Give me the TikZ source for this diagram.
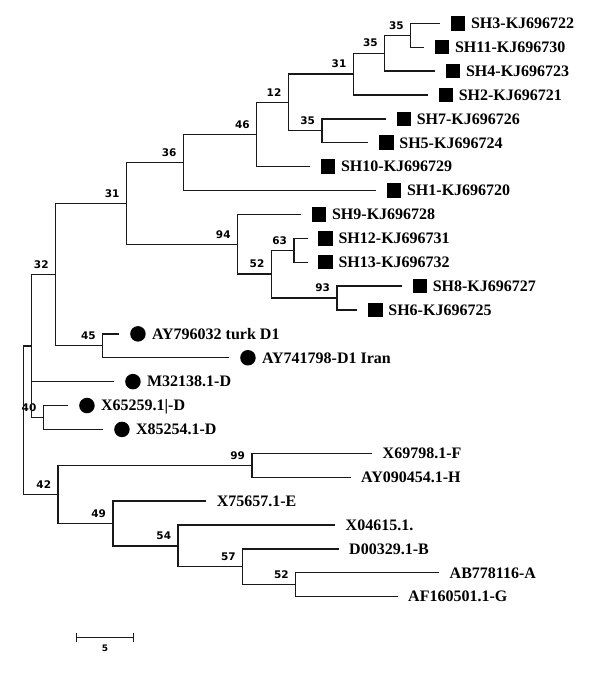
\documentclass[tikz,border=0pt]{standalone}
\usepackage{fontspec}
\setmainfont{Liberation Serif}[BoldFont={Liberation Serif Bold}]
\newfontfamily\bsfont{DejaVu Sans}[BoldFont={DejaVu Sans Bold}]
\usetikzlibrary{positioning,arrows.meta}
\newcommand{\tx}{\bfseries\fontsize{16}{16}\selectfont}

\begin{document}
\begin{tikzpicture}[x=1pt,y=-23.89pt,
   branch/.style={draw=black!90,line width=1.3pt},
   sq/.style={rectangle,fill=black,minimum size=14.5pt,inner sep=0pt},
   dot/.style={circle,fill=black,minimum size=15.5pt,inner sep=0pt},
   taxon/.style={font=\tx,inner sep=0pt,text height=10.6pt,text depth=0pt},
   bs/.style={font=\bsfont\bfseries\fontsize{10.5}{10.5}\selectfont,inner sep=0pt,xshift=-14.3pt,yshift=10pt}]
   \useasboundingbox (0,-0.975) rectangle (600,27.196);
   % leaf ends
   \coordinate (sh3)    at (440.0, 0);
   \coordinate (sh11)   at (424.0, 1);
   \coordinate (sh4)    at (435.0, 2);
   \coordinate (sh2)    at (427.7, 3);
   \coordinate (sh7)    at (385.7, 4);
   \coordinate (sh5)    at (368.3, 5);
   \coordinate (sh10)   at (310.0, 6);
   \coordinate (sh1)    at (376.0, 7);
   \coordinate (sh9)    at (301.0, 8);
   \coordinate (sh12)   at (307.5, 9);
   \coordinate (sh13)   at (307.5,10);
   \coordinate (sh8)    at (401.7,11);
   \coordinate (sh6)    at (357.3,12);
   \coordinate (ay796)  at (119.3,13);
   \coordinate (ay741)  at (229.3,14);
   \coordinate (m32138) at (114.3,15);
   \coordinate (x65259) at ( 68.3,16);
   \coordinate (x85254) at (103.3,17);
   \coordinate (x69798) at (372.0,18);
   \coordinate (ay090)  at (350.5,19);
   \coordinate (x75657) at (206.1,20);
   \coordinate (x04615) at (335.0,21);
   \coordinate (d00329) at (338.5,22);
   \coordinate (ab778)  at (439.0,23);
   \coordinate (af160)  at (397.5,24);
   % inner nodes
   \coordinate[label={[bs]center:35}] (n35a) at (410.7, 0.5);
   \coordinate[label={[bs]center:35}] (n35b) at (384.7, 1.25);
   \coordinate[label={[bs]center:31}] (n31a) at (353.3, 2.125);
   \coordinate[label={[bs]center:35}] (n35c) at (322.0, 4.5);
   \coordinate[label={[bs]center:12}] (n12)  at (288.3, 3.3125);
   \coordinate[label={[bs]center:46}] (n46)  at (256.7, 4.656);
   \coordinate[label={[bs]center:36}] (n36)  at (183.5, 5.828);
   \coordinate[label={[bs]center:63}] (n63)  at (293.9, 9.5);
   \coordinate[label={[bs]center:93}] (n93)  at (336.9,11.5);
   \coordinate[label={[bs]center:52}] (n52a) at (271.3,10.5);
   \coordinate[label={[bs]center:94}] (n94)  at (237.6, 9.25);
   \coordinate[label={[bs]center:31}] (n31b) at (126.5, 7.539);
   \coordinate[label={[bs]center:45}] (n45)  at (102.7,13.5);
   \coordinate[label={[bs]center:32}] (n32)  at ( 55.6,10.52);
   \coordinate[label={[bs]center:40}] (n40)  at ( 43.3,16.5);
   \coordinate (nd)   at ( 31.7,13.51);
   \coordinate[label={[bs]center:99}] (n99)  at (252.0,18.5);
   \coordinate[label={[bs]center:52}] (n52b) at (295.7,23.5);
   \coordinate[label={[bs]center:57}] (n57)  at (242.7,22.75);
   \coordinate[label={[bs]center:54}] (n54)  at (178.1,21.875);
   \coordinate[label={[bs]center:49}] (n49)  at (112.9,20.94);
   \coordinate[label={[bs]center:42}] (n42)  at ( 58.1,19.72);
   \coordinate (root) at ( 23.7,16.6);
   % markers and names
   \node (sh3m)  [sq,right=10.7pt of sh3]  {};
   \node (sh3t)  [taxon,right=5.3pt of sh3m]  {SH3-KJ696722};
   \node (sh11m) [sq,right=10.7pt of sh11] {};
   \node (sh11t) [taxon,right=5.3pt of sh11m] {SH11-KJ696730};
   \node (sh4m)  [sq,right=10.7pt of sh4]  {};
   \node (sh4t)  [taxon,right=5.3pt of sh4m]  {SH4-KJ696723};
   \node (sh2m)  [sq,right=10.7pt of sh2]  {};
   \node (sh2t)  [taxon,right=5.3pt of sh2m]  {SH2-KJ696721};
   \node (sh7m)  [sq,right=10.7pt of sh7]  {};
   \node (sh7t)  [taxon,right=5.3pt of sh7m]  {SH7-KJ696726};
   \node (sh5m)  [sq,right=10.7pt of sh5]  {};
   \node (sh5t)  [taxon,right=5.3pt of sh5m]  {SH5-KJ696724};
   \node (sh10m) [sq,right=10.7pt of sh10] {};
   \node (sh10t) [taxon,right=5.3pt of sh10m] {SH10-KJ696729};
   \node (sh1m)  [sq,right=10.7pt of sh1]  {};
   \node (sh1t)  [taxon,right=5.3pt of sh1m]  {SH1-KJ696720};
   \node (sh9m)  [sq,right=10.7pt of sh9]  {};
   \node (sh9t)  [taxon,right=5.3pt of sh9m]  {SH9-KJ696728};
   \node (sh12m) [sq,right=10.7pt of sh12] {};
   \node (sh12t) [taxon,right=5.3pt of sh12m] {SH12-KJ696731};
   \node (sh13m) [sq,right=10.7pt of sh13] {};
   \node (sh13t) [taxon,right=5.3pt of sh13m] {SH13-KJ696732};
   \node (sh8m)  [sq,right=10.7pt of sh8]  {};
   \node (sh8t)  [taxon,right=5.3pt of sh8m]  {SH8-KJ696727};
   \node (sh6m)  [sq,right=10.7pt of sh6]  {};
   \node (sh6t)  [taxon,right=5.3pt of sh6m]  {SH6-KJ696725};
   \node (ay796m)  [dot,right=10.7pt of ay796]  {};
   \node (ay796t)  [taxon,right=6pt of ay796m]  {AY796032 turk D1};
   \node (ay741m)  [dot,right=10.7pt of ay741]  {};
   \node (ay741t)  [taxon,right=6pt of ay741m]  {AY741798-D1 Iran};
   \node (m32138m) [dot,right=10.7pt of m32138] {};
   \node (m32138t) [taxon,right=6pt of m32138m] {M32138.1-D};
   \node (x65259m) [dot,right=10.7pt of x65259] {};
   \node (x65259t) [taxon,right=6pt of x65259m] {X65259.1|-D};
   \node (x85254m) [dot,right=10.7pt of x85254] {};
   \node (x85254t) [taxon,right=6pt of x85254m] {X85254.1-D};
   \node (x69798t) [taxon,right=10.5pt of x69798] {X69798.1-F};
   \node (ay090t)  [taxon,right=10.5pt of ay090]  {AY090454.1-H};
   \node (x75657t) [taxon,right=10.5pt of x75657] {X75657.1-E};
   \node (x04615t) [taxon,right=10.5pt of x04615] {X04615.1.};
   \node (d00329t) [taxon,right=10.5pt of d00329] {D00329.1-B};
   \node (ab778t)  [taxon,right=10.5pt of ab778]  {AB778116-A};
   \node (af160t)  [taxon,right=10.5pt of af160]  {AF160501.1-G};
   % branches
   \draw[branch] (n35a) |- (sh3);
   \draw[branch] (n35a) |- (sh11);
   \draw[branch] (n35b) |- (n35a);
   \draw[branch] (n35b) |- (sh4);
   \draw[branch] (n31a) |- (n35b);
   \draw[branch] (n31a) |- (sh2);
   \draw[branch] (n35c) |- (sh7);
   \draw[branch] (n35c) |- (sh5);
   \draw[branch] (n12) |- (n31a);
   \draw[branch] (n12) |- (n35c);
   \draw[branch] (n46) |- (n12);
   \draw[branch] (n46) |- (sh10);
   \draw[branch] (n36) |- (n46);
   \draw[branch] (n36) |- (sh1);
   \draw[branch] (n63) |- (sh12);
   \draw[branch] (n63) |- (sh13);
   \draw[branch] (n93) |- (sh8);
   \draw[branch] (n93) |- (sh6);
   \draw[branch] (n52a) |- (n63);
   \draw[branch] (n52a) |- (n93);
   \draw[branch] (n94) |- (sh9);
   \draw[branch] (n94) |- (n52a);
   \draw[branch] (n31b) |- (n36);
   \draw[branch] (n31b) |- (n94);
   \draw[branch] (n45) |- (ay796);
   \draw[branch] (n45) |- (ay741);
   \draw[branch] (n32) |- (n31b);
   \draw[branch] (n32) |- (n45);
   \draw[branch] (n40) |- (x65259);
   \draw[branch] (n40) |- (x85254);
   \draw[branch] (nd) |- (n32);
   \draw[branch] (nd) |- (m32138);
   \draw[branch] (nd) |- (n40);
   \draw[branch] (n99) |- (x69798);
   \draw[branch] (n99) |- (ay090);
   \draw[branch] (n52b) |- (ab778);
   \draw[branch] (n52b) |- (af160);
   \draw[branch] (n57) |- (d00329);
   \draw[branch] (n57) |- (n52b);
   \draw[branch] (n54) |- (x04615);
   \draw[branch] (n54) |- (n57);
   \draw[branch] (n49) |- (x75657);
   \draw[branch] (n49) |- (n54);
   \draw[branch] (n42) |- (n99);
   \draw[branch] (n42) |- (n49);
   \draw[branch] (root) |- (nd);
   \draw[branch] (root) |- (n42);
   % scale bar
   \coordinate (sb0) at ( 75.7,25.72);
   \coordinate (sb1) at (134.0,25.72);
   \draw[branch,{Bar[width=9.4pt]}-{Bar[width=9.4pt]}] (sb0) -- (sb1);
   \node (sbt) at (105,26.15) [font=\bsfont\bfseries\fontsize{9}{9}\selectfont,inner sep=0pt] {5};
\end{tikzpicture}
\end{document}
